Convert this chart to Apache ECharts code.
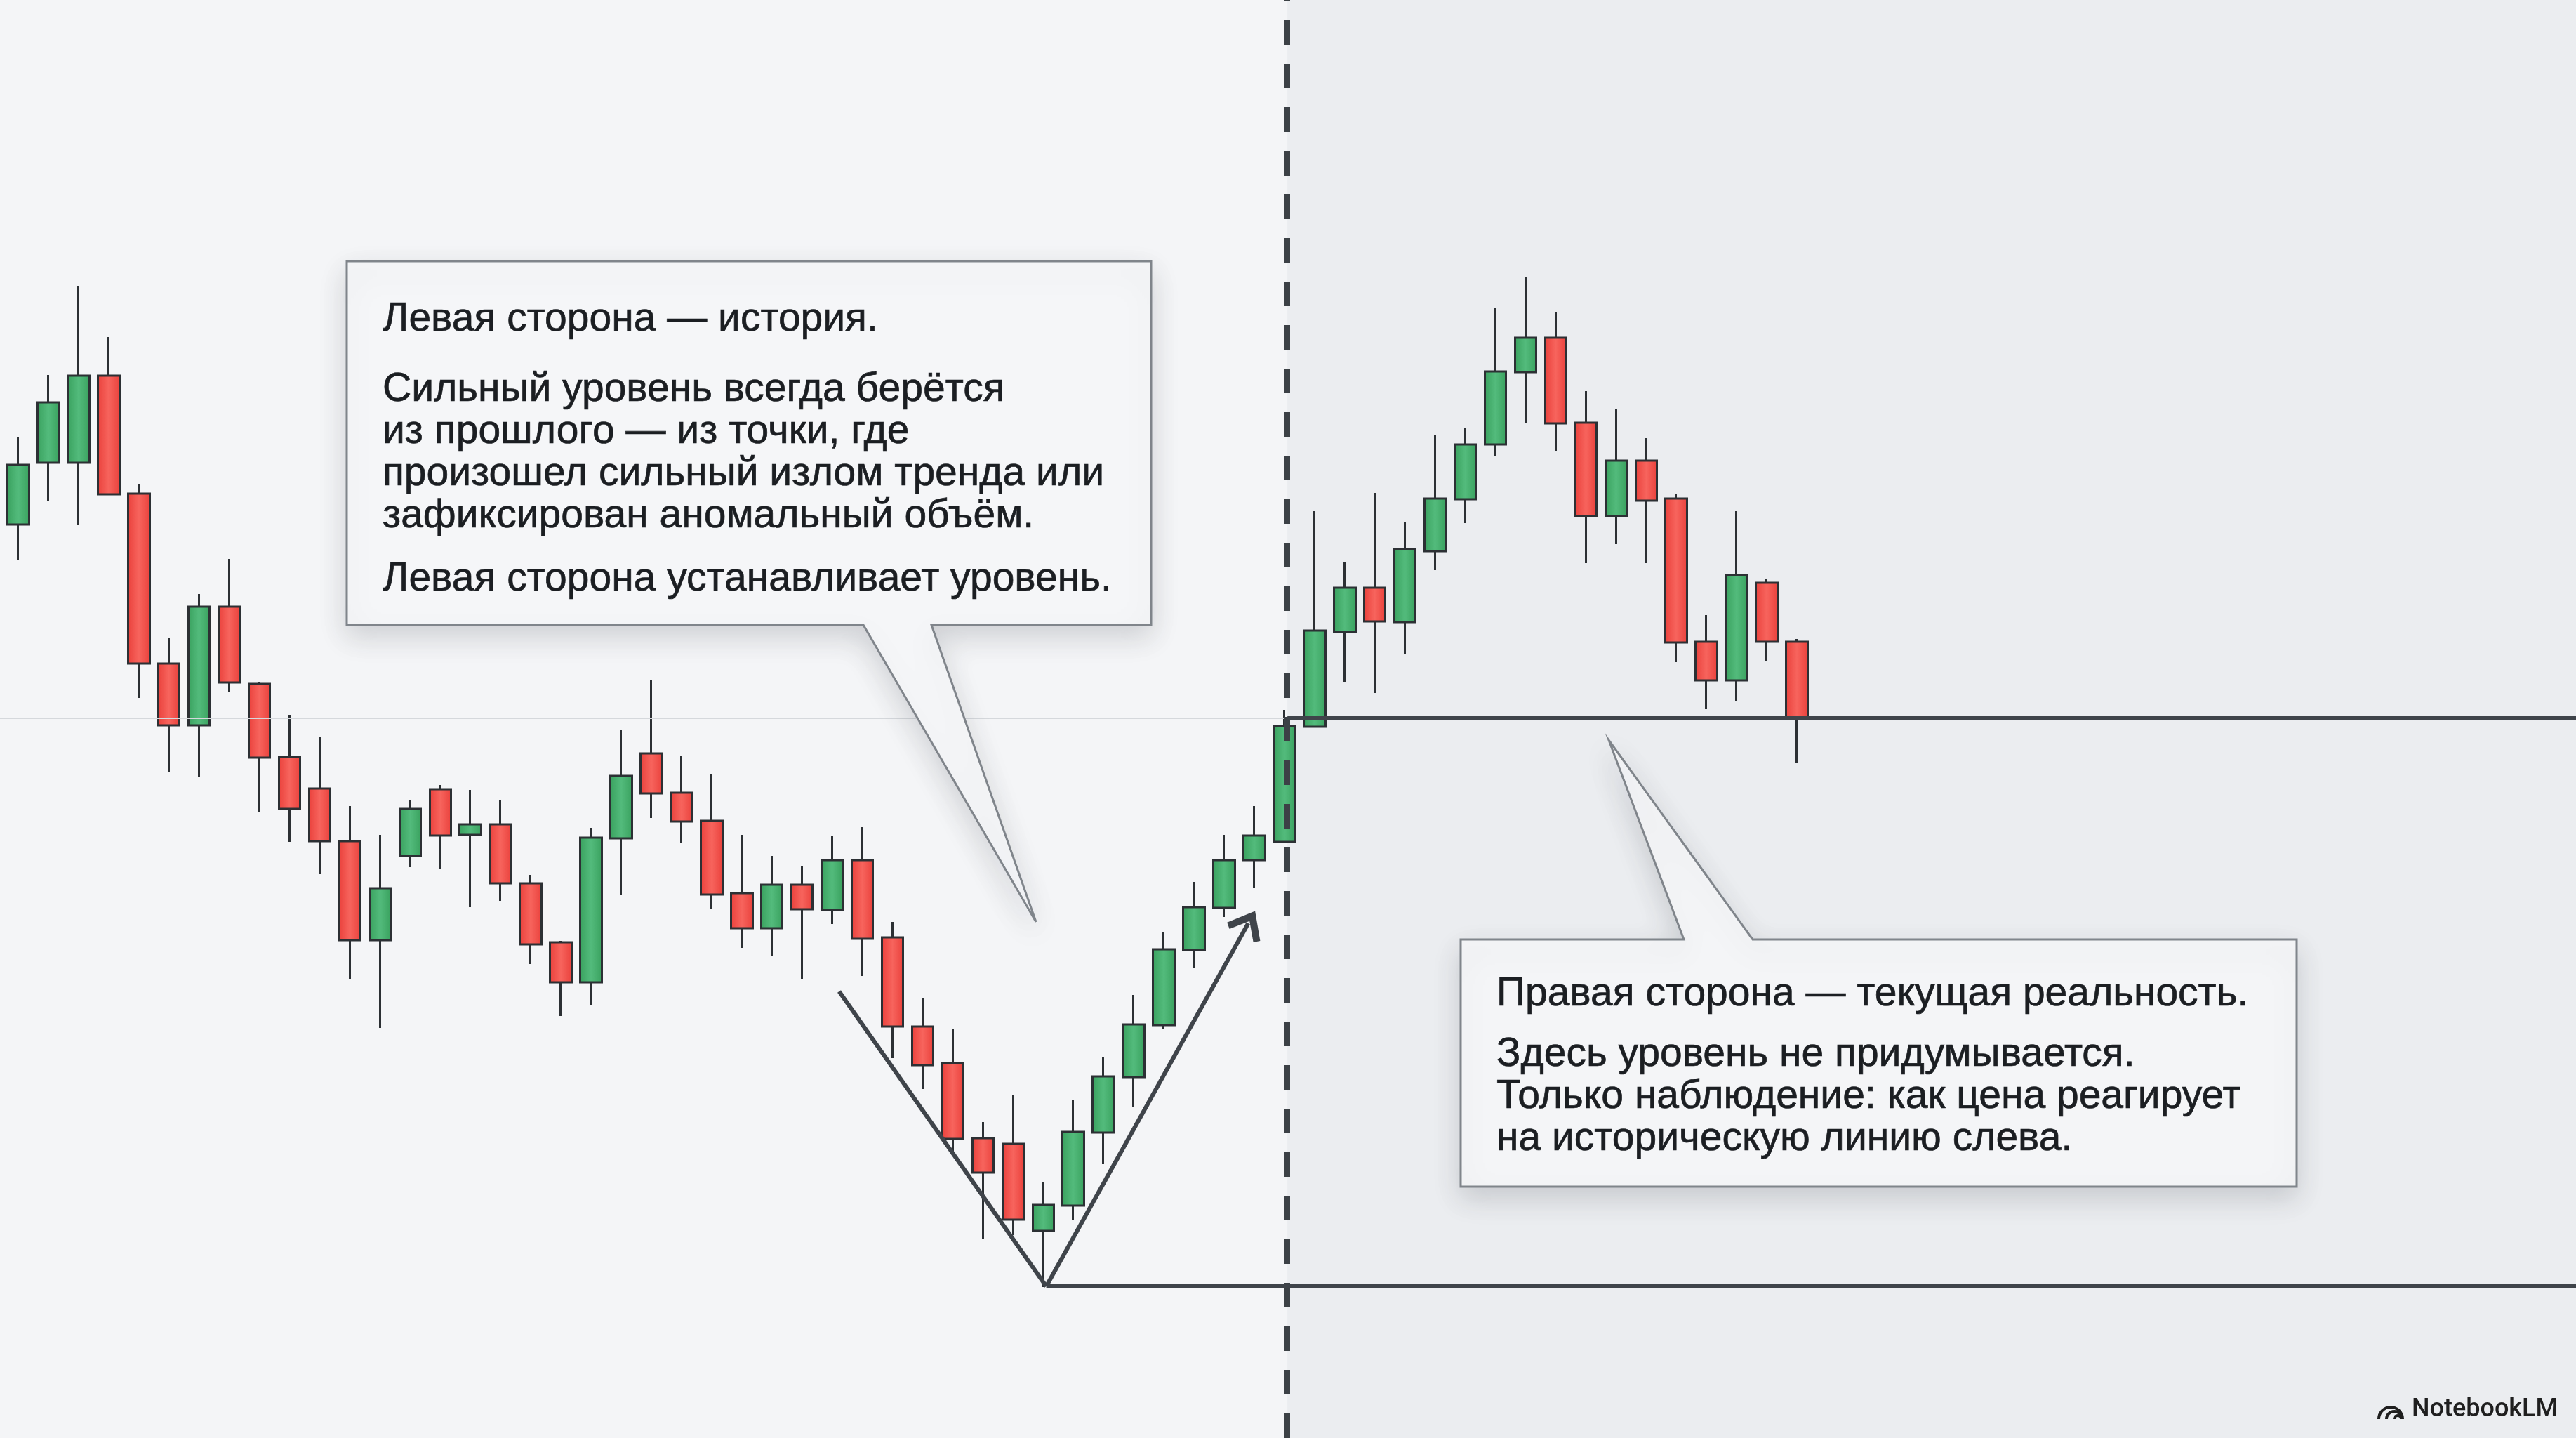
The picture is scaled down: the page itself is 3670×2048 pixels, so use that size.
<!DOCTYPE html>
<html>
<head>
<meta charset="utf-8">
<script src="https://cdn.jsdelivr.net/npm/echarts@6/dist/echarts.min.js"></script>
<style>
html,body{margin:0;padding:0;background:#f4f5f7;}
#c{width:3670px;height:2048px;}
</style>
</head>
<body>
<div id="c"></div>
<script>
// ---------------- DATA ----------------
const opens  = [130.1,138.9,138.9,151.3,134.5,110.3,101.5,118.4,107.4,97.0,
                92.5,85.0,70.9,82.9,92.4,85.9,87.4,79.0,70.6,64.9,
                85.4,97.5,91.9,87.9,77.6,72.6,78.8,75.2,82.3,71.3,
                58.6,53.4,42.7,41.9,29.5,33.1,43.5,51.4,58.8,69.5,
                75.5,82.3,84.9,101.3,114.8,121.1,116.2,126.3,133.7,141.5,
                151.8,156.7,144.6,131.3,139.2,133.8,113.4,107.9,121.8,113.4];
const closes = [138.6,147.5,151.3,134.4,110.3,101.5,118.4,107.6,96.9,89.6,
                85.0,70.9,78.3,89.6,85.8,87.4,79.0,70.3,64.9,85.5,
                94.3,91.8,87.8,77.4,72.6,78.8,75.3,82.3,71.1,58.6,
                53.1,42.6,37.8,31.1,33.2,43.6,51.5,58.9,69.6,75.6,
                82.3,85.8,101.4,115.0,121.1,116.3,126.6,133.8,141.5,151.9,
                156.7,144.5,131.3,139.2,133.5,113.3,107.9,122.9,113.4,102.5];
const lows   = [125.0,133.4,130.1,134.4,105.4,94.9,94.1,106.2,89.2,84.9,
                80.3,65.4,58.4,81.3,81.1,75.6,76.5,67.5,60.1,61.6,
                77.4,88.3,84.8,75.4,69.8,68.7,65.4,73.2,65.8,54.1,
                49.7,40.5,28.4,28.9,21.5,31.1,39.0,47.2,58.3,67.0,
                74.2,78.4,84.9,101.3,107.6,106.1,111.6,123.6,130.3,139.8,
                144.5,140.6,124.6,127.3,124.6,110.5,103.8,105.0,110.6,96.2];
const highs  = [142.6,151.4,164.0,156.8,135.9,114.0,120.2,125.2,107.6,102.9,
                99.9,90.0,85.9,90.8,93.0,92.3,90.9,80.2,70.8,86.9,
                100.8,108.0,97.1,94.6,85.9,82.9,81.5,85.8,87.0,73.5,
                62.7,58.3,45.0,48.8,36.5,48.1,54.3,63.1,72.1,79.2,
                85.9,90.0,103.7,132.0,124.8,134.6,130.4,142.9,143.9,160.9,
                165.3,160.3,149.1,146.5,142.4,134.4,117.2,132.0,122.3,113.8];

const levelPrice    = 102.5;  // historical level (from the left side)
const lowLevelPrice = 21.6;   // level at the V bottom
const vStart  = [27.23, 63.6];
const vBottom = [34.1, 21.6];
const vTip    = [40.8, 73.3];
const splitBar = 42.1;        // divider: history | current reality

const leftTitle = 'Левая сторона — история.';
const leftBody  = ['Сильный уровень всегда берётся',
                   'из прошлого — из точки, где',
                   'произошел сильный излом тренда или',
                   'зафиксирован аномальный объём.'];
const leftFoot  = 'Левая сторона устанавливает уровень.';
const rightTitle = 'Правая сторона — текущая реальность.';
const rightBody  = ['Здесь уровень не придумывается.',
                    'Только наблюдение: как цена реагирует',
                    'на историческую линию слева.'];
const brand = 'NotebookLM';

// ---------------- LAYOUT ----------------
const X_MIN = -0.605, X_MAX = 84.843;
const candleData = opens.map((o, i) => [i, o, closes[i], lows[i], highs[i]]);

const FONT = '"Liberation Sans", Arial, sans-serif';
const FS = 57;
const TXT = '#1b1e22';

function textEl(str, x, y) {
  return { type: 'text', z: 110, style: { text: str, x: x, y: y, fill: TXT, stroke: TXT, lineWidth: 0.7,
    font: FS + 'px ' + FONT, textAlign: 'left', verticalAlign: 'middle', textVerticalAlign: 'middle' } };
}

const boxStyle = { fill: '#f5f6f8', stroke: '#80858b', lineWidth: 3,
  shadowBlur: 40, shadowOffsetY: 16, shadowColor: 'rgba(40,45,55,0.18)' };

const graphics = [
  { type: 'polygon', z: 100, shape: { points: [[494,372],[1640,372],[1640,890],[1327,890],[1476,1313],[1230,890],[494,890]] }, style: boxStyle },
  { type: 'polygon', z: 100, shape: { points: [[2081,1338],[2399,1338],[2292,1054],[2497,1338],[3272,1338],[3272,1690],[2081,1690]] }, style: Object.assign({}, boxStyle, {fill:'#f4f5f7'}) },
  textEl(leftTitle, 545, 455),
  textEl(leftBody[0], 545, 555),
  textEl(leftBody[1], 545, 615),
  textEl(leftBody[2], 545, 675),
  textEl(leftBody[3], 545, 735),
  textEl(leftFoot, 545, 825),
  textEl(rightTitle, 2132, 1416),
  textEl(rightBody[0], 2132, 1502),
  textEl(rightBody[1], 2132, 1562),
  textEl(rightBody[2], 2132, 1622),
  { type: 'text', z: 110, style: { text: brand, x: 3436, y: 2008, fill: '#1f1f1f',
    font: '500 36px Roboto, "Noto Sans", sans-serif', textAlign: 'left', verticalAlign: 'middle', textVerticalAlign: 'middle' } },
  { type: 'arc', z: 110, shape: { cx: 3406, cy: 2021, r: 17, startAngle: Math.PI, endAngle: Math.PI * 2, clockwise: true }, style: { stroke: '#1f1f1f', lineWidth: 4, fill: null } },
  { type: 'arc', z: 110, shape: { cx: 3411, cy: 2021, r: 11, startAngle: Math.PI, endAngle: Math.PI * 2, clockwise: true }, style: { stroke: '#1f1f1f', lineWidth: 4, fill: null } },
  { type: 'arc', z: 110, shape: { cx: 3416, cy: 2021, r: 5, startAngle: Math.PI, endAngle: Math.PI * 2, clockwise: true }, style: { stroke: '#1f1f1f', lineWidth: 4, fill: null } }
];

const grad = (edge, mid) => new echarts.graphic.LinearGradient(0, 0, 1, 0, [
  {offset: 0, color: edge}, {offset: 0.5, color: mid}, {offset: 1, color: edge}]);

const DARK = '#3f444a';
const chevron = 'path://M50,0 L100,62 L86,74 L50,30 L14,74 L0,62 Z';

const hidden = { axisLine: {show: false}, axisTick: {show: false}, axisLabel: {show: false}, splitLine: {show: false} };

const option = {
  animation: false,
  backgroundColor: '#f4f5f7',
  grid: { left: 0, right: 0, top: 0, bottom: 0, containLabel: false },
  xAxis: Object.assign({ type: 'value', min: X_MIN, max: X_MAX, scale: true }, hidden),
  yAxis: Object.assign({ type: 'value', min: 0, max: 204.8 }, hidden),
  graphic: graphics,
  series: [
    { // background split + faint level + divider
      type: 'line', data: [], z: 1, silent: true,
      markArea: { silent: true, itemStyle: { color: '#ebedf0' },
        data: [[{ xAxis: splitBar }, { xAxis: X_MAX }]] },
      markLine: { silent: true, symbol: ['none', 'none'], label: {show: false},
        data: [
          { yAxis: levelPrice, lineStyle: { color: '#d5d8dc', width: 2, type: 'solid' } },
          { xAxis: splitBar, lineStyle: { color: '#3c4146', width: 8, type: [35, 27] } }
        ] }
    },
    {
      type: 'candlestick', z: 3, barWidth: 31,
      encode: { x: 0, y: [1, 2, 3, 4] },
      data: candleData,
      itemStyle: {
        color: grad('#38a05d', '#53bb7c'),
        color0: grad('#e93f3a', '#f7645d'),
        borderColor: '#2c3034', borderColor0: '#2c3034', borderColorDoji: '#2c3034',
        borderWidth: 3
      }
    },
    { // annotation lines
      type: 'line', data: [], z: 5, silent: true,
      markLine: { silent: true, symbol: ['none', 'none'], label: {show: false},
        lineStyle: { color: DARK, width: 6, type: 'solid' },
        data: [
          [{ coord: vStart }, { coord: vBottom }],
          [{ coord: vBottom }, { coord: vTip, symbol: chevron, symbolSize: [54, 40] }],
          [{ coord: [vBottom[0], lowLevelPrice] }, { coord: [X_MAX, lowLevelPrice] }],
          [{ coord: [splitBar, levelPrice] }, { coord: [X_MAX, levelPrice] }]
        ] }
    }
  ]
};

const chart = echarts.init(document.getElementById('c'), null, { renderer: 'canvas' });
chart.setOption(option);
</script>
</body>
</html>
